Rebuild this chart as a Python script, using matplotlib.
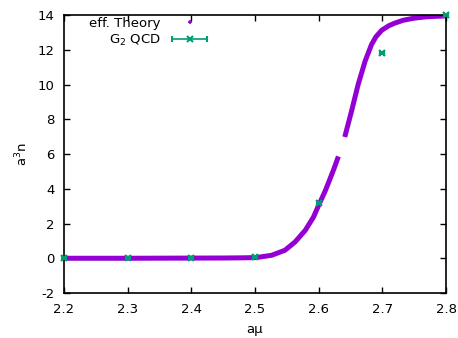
import numpy as np
import matplotlib
matplotlib.use("Agg")
import matplotlib.pyplot as plt
from matplotlib.legend_handler import HandlerErrorbar

plt.rcParams['axes.unicode_minus'] = False

# effective theory curve, two pieces with a gap
theory_x1 = [2.2, 2.3, 2.4, 2.45, 2.48, 2.502, 2.526, 2.547, 2.563, 2.579, 2.592, 2.6, 2.61, 2.616, 2.624, 2.631]
theory_y1 = [0.0, 0.0, 0.01, 0.015, 0.025, 0.04, 0.17, 0.46, 0.94, 1.61, 2.38, 3.05, 3.85, 4.4, 5.15, 5.86]
theory_x2 = [2.641, 2.652, 2.662, 2.673, 2.683, 2.69, 2.699, 2.71, 2.72, 2.733, 2.75, 2.77, 2.8]
theory_y2 = [6.98, 8.52, 10.0, 11.35, 12.3, 12.75, 13.12, 13.38, 13.54, 13.7, 13.82, 13.9, 13.95]

# G2 QCD data
qcd_x = [2.2, 2.3, 2.4, 2.5, 2.6, 2.7, 2.8]
qcd_y = [0.0, 0.0, 0.0, 0.05, 3.2, 11.83, 13.98]
qcd_xerr = [0.003] * 7

purple = '#9400d3'
green = '#009e73'

fig = plt.figure(figsize=(4.58, 3.38), dpi=100)
ax = fig.add_axes([0.1397, 0.1331, 0.8341, 0.8225])

ax.plot(theory_x1, theory_y1, color=purple, lw=3.6, solid_capstyle='butt', solid_joinstyle='round')
ax.plot(theory_x2, theory_y2, color=purple, lw=3.6, solid_capstyle='butt', solid_joinstyle='round')
# legend handle for theory: a single small point
ax.plot([], [], ls='none', marker='+', ms=3, mew=1.2, color=purple, label='eff. Theory')

eb = ax.errorbar(qcd_x, qcd_y, xerr=qcd_xerr, fmt='x', color=green, ms=5, mew=1.5,
                 elinewidth=1.2, capsize=2.5, capthick=1.2, label='G$_2$ QCD', zorder=5,
                 clip_on=False)

ax.set_xlim(2.2, 2.8)
ax.set_ylim(-2, 14)
ax.set_xticks(np.arange(2.2, 2.81, 0.1))
ax.set_xticklabels(['2.2', '2.3', '2.4', '2.5', '2.6', '2.7', '2.8'])
ax.set_yticks(range(-2, 15, 2))
ax.tick_params(direction='in', top=True, right=True, length=4, width=1, labelsize=9.5, pad=7)
for s in ax.spines.values():
    s.set_linewidth(1.2)

ax.set_xlabel('aμ', fontsize=9.5, labelpad=5)
ax.set_ylabel('a$^3$n', fontsize=9.5, labelpad=5)

leg = ax.legend(loc='upper left', bbox_to_anchor=(0.045, 1.022), frameon=False, markerfirst=False,
                fontsize=9.5, handlelength=2.8, handletextpad=0.8, labelspacing=0.2,
                borderaxespad=0.2, handler_map={eb: HandlerErrorbar(xerr_size=1.3)})

fig.savefig('out.png', dpi=100)
